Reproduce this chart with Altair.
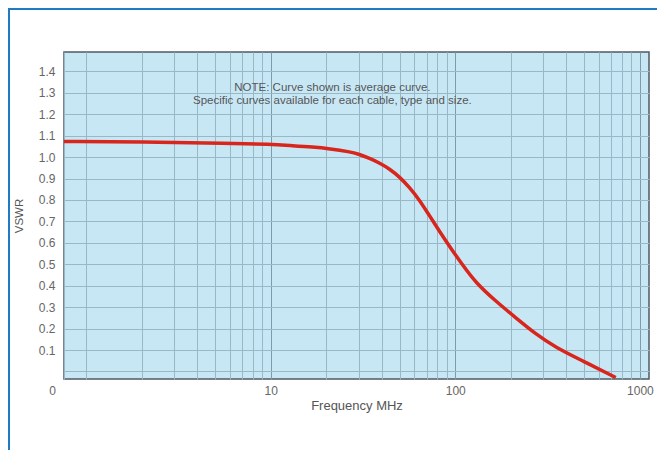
import altair as alt
import pandas as pd

# Curve (Frequency MHz, VSWR)
freq = [0.76, 2, 6, 10, 12.7, 17, 20.9, 26.7, 30.2, 34.3, 39, 44.0, 50, 56.4, 64, 72.3,
        82, 92.8, 109.5, 129.3, 166, 213, 273, 350, 488, 740]
vswr = [1.073, 1.071, 1.064, 1.060, 1.054, 1.047, 1.039, 1.025, 1.013, 0.994, 0.972,
        0.945, 0.907, 0.859, 0.800, 0.728, 0.655, 0.585, 0.497, 0.413, 0.327, 0.250,
        0.174, 0.112, 0.050, -0.028]

x_ticks = [0.76, 1, 2, 3, 4, 5, 6, 7, 8, 9, 10, 20, 30, 40, 50, 60, 70, 80, 90,
           100, 200, 300, 400, 500, 600, 700, 800, 900, 1000]
y_ticks = [0, 0.1, 0.2, 0.3, 0.4, 0.5, 0.6, 0.7, 0.8, 0.9, 1.0, 1.1, 1.2, 1.3, 1.4]

note_lines = ["NOTE: Curve shown is average curve.",
              "Specific curves available for each cable, type and size."]
note_freq = [21.6, 21.6]
note_vswr = [1.321, 1.26]

df = pd.DataFrame({"freq": freq, "vswr": vswr})
notes = pd.DataFrame({"freq": note_freq, "vswr": note_vswr, "text": note_lines})

FONT = "Liberation Sans"
W, H = 585, 327
PAD = {"left": 56, "top": 44, "right": 8, "bottom": 71}

x_scale = alt.Scale(type="log", domain=[0.76, 1120], nice=False)
y_scale = alt.Scale(domain=[-0.035, 1.49], nice=False, zero=False)

major = "datum.value == 10 || datum.value == 100 || datum.value == 1000"

x_axis = alt.Axis(
    values=x_ticks,
    tickCount=len(x_ticks) + 5,
    labelExpr="datum.value < 1 ? '0' : (" + major + ") ? '' + datum.value : ''",
    labelOffset={"condition": {"test": "datum.value < 1", "value": -12}, "value": 0},
    labelFont=FONT, labelFontSize=12, labelColor="#666666", labelPadding=6,
    labelFlush=False, labelOverlap=False,
    title="Frequency MHz", titleFont=FONT, titleFontSize=13, titleFontWeight="normal",
    titleColor="#555555", titlePadding=3,
    ticks=False, domain=False, grid=True,
    gridColor={"condition": {"test": major, "value": "#7c9cac"}, "value": "#98b8c8"},
    gridWidth=1,
)

y_axis = alt.Axis(
    values=y_ticks,
    tickCount=len(y_ticks) + 5,
    format=".1f",
    labelExpr="datum.value < 0.05 ? '' : datum.label",
    labelFont=FONT, labelFontSize=12, labelColor="#666666", labelPadding=9,
    labelOverlap=False, labelFlush=False,
    title="VSWR", titleFont=FONT, titleFontSize=11.5, titleFontWeight="normal",
    titleColor="#555555", titlePadding=14,
    ticks=False, domain=False, grid=True,
    gridColor="#98b8c8",
)

curve = alt.Chart(df).mark_line(
    color="#d8261c", strokeWidth=3.5, interpolate="basis"
).encode(
    x=alt.X("freq:Q", scale=x_scale, axis=x_axis),
    y=alt.Y("vswr:Q", scale=y_scale, axis=y_axis),
)

note = alt.Chart(notes).mark_text(
    font=FONT, fontSize=11.5, color="#555555", align="center", baseline="middle"
).encode(
    x=alt.X("freq:Q", scale=x_scale),
    y=alt.Y("vswr:Q", scale=y_scale),
    text="text:N",
)

frame_left = alt.Chart(df).mark_rule(color="#1f7bc5", strokeWidth=3).encode(
    x=alt.value(-PAD["left"] + 0.5),
    y=alt.value(-PAD["top"]),
    y2=alt.value(H + PAD["bottom"]),
)
frame_top = alt.Chart(df).mark_rule(color="#1f7bc5", strokeWidth=3).encode(
    x=alt.value(-PAD["left"]),
    x2=alt.value(W + PAD["right"]),
    y=alt.value(-PAD["top"] + 0.5),
)

chart = alt.layer(curve, note, frame_left, frame_top).properties(
    width=W, height=H,
    padding=PAD,
    autosize=alt.AutoSizeParams(type="none"),
    background="white",
).configure_view(
    fill="#c8e7f5", stroke="#4d5b63", strokeWidth=1.5
)

chart.save("out.html", embed_options={"renderer": "svg", "actions": False})
